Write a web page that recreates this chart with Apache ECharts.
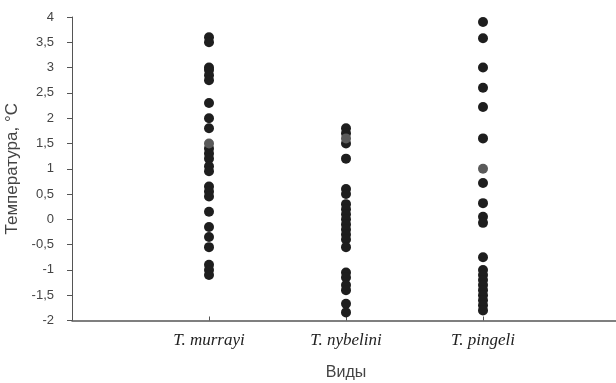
<!DOCTYPE html>
<html>
<head>
<meta charset="utf-8">
<script src="https://cdn.jsdelivr.net/npm/echarts@6/dist/echarts.min.js"></script>
<style>
  html, body { margin: 0; padding: 0; background: #fff; }
  #chart { width: 616px; height: 383px; }
</style>
</head>
<body>
<div id="chart"></div>
<script>
// Species shown along the horizontal axis (padded with empty slots at both ends)
const species = ['', 'T. murrayi', 'T. nybelini', 'T. pingeli', ''];

// Temperatures (°C) at which each species was recorded
const murrayiTemps = [3.6, 3.5, 3.0, 2.95, 2.85, 2.75, 2.3, 2.0, 1.8, 1.4, 1.3, 1.2,
  1.05, 0.95, 0.65, 0.55, 0.45, 0.15, -0.15, -0.35, -0.55, -0.9, -1.0, -1.1];
const nybeliniTemps = [1.8, 1.7, 1.5, 1.2, 0.6, 0.5, 0.3, 0.2, 0.1, 0.0, -0.1, -0.2,
  -0.3, -0.4, -0.55, -1.05, -1.15, -1.3, -1.4, -1.67, -1.84];
const pingeliTemps = [3.9, 3.58, 3.0, 2.6, 2.22, 1.6, 0.72, 0.32, 0.05, -0.07, -0.75,
  -1.0, -1.1, -1.2, -1.3, -1.4, -1.5, -1.6, -1.7, -1.8];

// Single lighter records (one per species)
const greyTemps = [1.5, 1.6, 1.0];

// Temperature axis range
const yMin = -2, yMax = 4, yStep = 0.5;

const toPoints = (idx, arr) => arr.map(v => [idx, v]);
const darkData = [].concat(
  toPoints(1, murrayiTemps),
  toPoints(2, nybeliniTemps),
  toPoints(3, pingeliTemps)
);
const greyData = greyTemps.map((v, i) => [i + 1, v]);

const sans = "'Liberation Sans', Arial, sans-serif";
const narrow = "'Liberation Sans Narrow', 'Liberation Sans', Arial, sans-serif";

const chart = echarts.init(document.getElementById('chart'), null, { renderer: 'canvas' });
chart.setOption({
  animation: false,
  backgroundColor: '#ffffff',
  grid: {
    left: 72, top: 17, width: 548, bottom: 62.5,
    containLabel: false,
    outerBoundsMode: 'none'
  },
  xAxis: {
    type: 'category',
    data: species,
    boundaryGap: false,
    name: 'Виды',
    nameLocation: 'middle',
    nameGap: 44,
    nameTextStyle: { fontFamily: sans, fontSize: 16, color: '#444' },
    axisLine: { onZero: false, lineStyle: { color: '#555', width: 1.5 } },
    axisTick: {
      inside: true, length: 4,
      interval: (i) => i > 0 && i < species.length - 1,
      lineStyle: { color: '#555' }
    },
    axisLabel: {
      interval: 0,
      margin: 12,
      fontFamily: "'Liberation Serif', 'Times New Roman', serif",
      fontStyle: 'italic',
      fontSize: 17,
      color: '#222'
    },
    splitLine: { show: false }
  },
  yAxis: {
    type: 'value',
    min: yMin, max: yMax, interval: yStep,
    name: 'Температура, °С',
    nameLocation: 'middle',
    nameGap: 50,
    nameTextStyle: { fontFamily: sans, fontSize: 17, color: '#444' },
    axisLine: { show: true, lineStyle: { color: '#555', width: 1 } },
    axisTick: { show: true, length: 5, lineStyle: { color: '#555' } },
    axisLabel: {
      margin: 18,
      fontFamily: narrow,
      fontSize: 13,
      color: '#444',
      formatter: (v) => String(v).replace('.', ',')
    },
    splitLine: { show: false }
  },
  series: [
    {
      type: 'scatter',
      data: darkData,
      symbolSize: 10,
      itemStyle: { color: '#1e1e1e', opacity: 1 },
      z: 2
    },
    {
      type: 'scatter',
      data: greyData,
      symbolSize: 10,
      itemStyle: { color: '#5a5a5a', opacity: 1 },
      z: 3
    }
  ]
});
</script>
</body>
</html>
